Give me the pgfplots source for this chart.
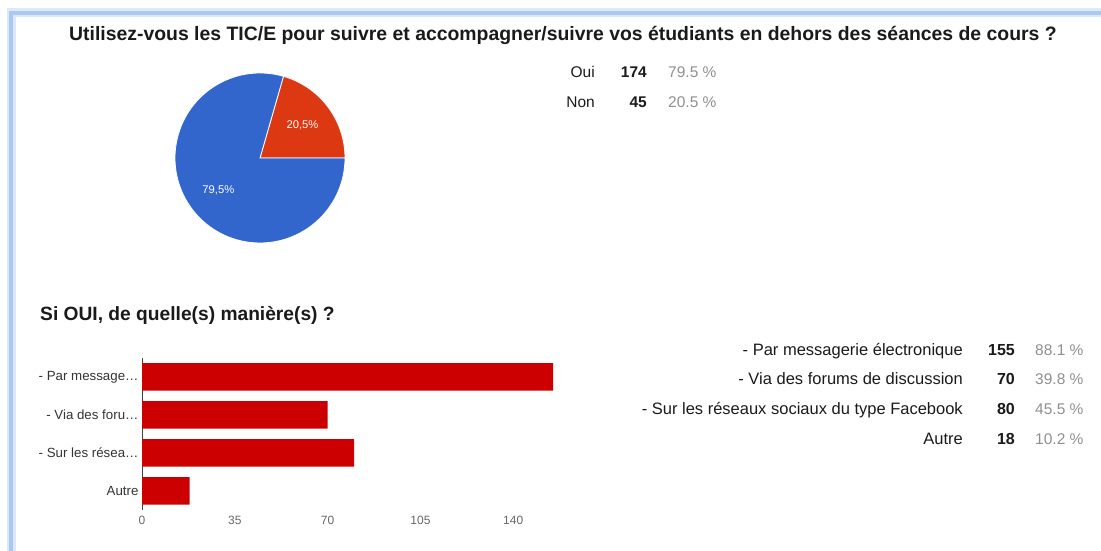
\documentclass[border=0pt]{standalone}
\usepackage{fontspec}
\setmainfont{Liberation Sans}
\usepackage{pgfplots}
\usepackage{pgfplotstable}
\pgfplotsset{compat=1.18}

\definecolor{gblue}{HTML}{3366CC}
\definecolor{gred}{HTML}{DC3912}
\definecolor{barred}{HTML}{CC0000}
\definecolor{frameblue}{HTML}{A9C9F2}
\definecolor{pctgray}{HTML}{8F8F8F}
\definecolor{txt}{HTML}{1A1A1A}

% reponses a la premiere question
\pgfplotstableread{
rep n
Oui 174
Non 45
}\piedata

% si oui : pos 3 = messagerie ... pos 0 = autre
\pgfplotstableread{
pos n
3 155
2 70
1 80
0 18
}\bardata

\begin{document}
\begin{tikzpicture}[x=1pt,y=1pt]
\useasboundingbox (0,0) rectangle (1101,551);

% cadre bleu de la capture
\draw[frameblue!40, line width=9pt] (11,-10) -- (11,538) -- (1120,538);
\draw[frameblue, line width=4pt] (11,-10) -- (11,538) -- (1120,538);

\node[font=\bfseries\fontsize{19.4}{22}\selectfont, text=txt] at (563,516)
  {Utilisez-vous les TIC/E pour suivre et accompagner/suivre vos étudiants en dehors des séances de cours ?};

% camembert
\pgfplotstablegetelem{0}{n}\of\piedata \let\nOui\pgfplotsretval
\pgfplotstablegetelem{1}{n}\of\piedata \let\nNon\pgfplotsretval
\pgfmathsetmacro\aNon{360*\nNon/(\nOui+\nNon)}
\begin{axis}[at={(175pt,308pt)}, anchor=south west, scale only axis,
  width=170pt, height=170pt, xmin=-1, xmax=1, ymin=-1, ymax=1, hide axis]
  \fill[gred, draw=white, line width=0.8pt] (axis cs:0,0) -- ++(0:85pt)
    arc[start angle=0, end angle=\aNon, radius=85pt] -- cycle;
  \fill[gblue, draw=white, line width=0.8pt] (axis cs:0,0) -- ++(\aNon:85pt)
    arc[start angle=\aNon, end angle=360, radius=85pt] -- cycle;
  \node[text=white, font=\fontsize{11.2}{13}\selectfont] at (axis cs:0.5,0.38) {20,5\%};
  \node[text=white, font=\fontsize{11.2}{13}\selectfont] at (axis cs:-0.49,-0.38) {79,5\%};
\end{axis}

\begin{scope}[font=\fontsize{15.5}{17}\selectfont, inner sep=0pt]
  \node[anchor=base east, text=txt] at (595,473) {Oui};
  \node[anchor=base east, text=txt, font=\bfseries\fontsize{15.5}{17}\selectfont] at (647,473) {174};
  \node[anchor=base west, text=pctgray] at (668,473) {79.5 \%};
  \node[anchor=base east, text=txt] at (595,443) {Non};
  \node[anchor=base east, text=txt, font=\bfseries\fontsize{15.5}{17}\selectfont] at (647,443) {45};
  \node[anchor=base west, text=pctgray] at (668,443) {20.5 \%};
\end{scope}

\node[anchor=west, font=\bfseries\fontsize{19.2}{22}\selectfont, text=txt, inner sep=0pt] at (40,236)
  {Si OUI, de quelle(s) manière(s) ?};

% barres horizontales
\begin{axis}[at={(142pt,41pt)}, anchor=south west, scale only axis,
  width=411pt, height=152pt,
  xbar, bar width=27.5pt,
  xmin=0, xmax=155, ymin=-0.5, ymax=3.5,
  axis x line*=bottom, axis y line*=left,
  x axis line style={draw=none},
  y axis line style={draw=black!75, -},
  major tick length=0pt,
  xtick={0,35,70,105,140},
  ytick={0,1,2,3},
  yticklabels={Autre,- Sur les résea…,- Via des foru…,- Par message…},
  xticklabel style={font=\fontsize{12}{14}\selectfont, text=black!60, yshift=-3pt},
  yticklabel style={font=\fontsize{13.3}{15}\selectfont, text=black!80},
  /pgf/number format/assume math mode=true]
  \addplot[fill=barred, draw=none] table[x=n, y=pos] {\bardata};
\end{axis}

\begin{scope}[font=\fontsize{16.5}{18}\selectfont, inner sep=0pt]
  \tikzset{num/.style={anchor=base east, text=txt, font=\bfseries\fontsize{16}{18}\selectfont},
           pct/.style={anchor=base west, text=pctgray, font=\fontsize{15.5}{17}\selectfont}}
  \node[anchor=base east, text=txt] at (963,195) {- Par messagerie électronique};
  \node[num] at (1015,195) {155};
  \node[pct] at (1035,195) {88.1 \%};
  \node[anchor=base east, text=txt] at (963,166) {- Via des forums de discussion};
  \node[num] at (1015,166) {70};
  \node[pct] at (1035,166) {39.8 \%};
  \node[anchor=base east, text=txt] at (963,136) {- Sur les réseaux sociaux du type Facebook};
  \node[num] at (1015,136) {80};
  \node[pct] at (1035,136) {45.5 \%};
  \node[anchor=base east, text=txt] at (963,106) {Autre};
  \node[num] at (1015,106) {18};
  \node[pct] at (1035,106) {10.2 \%};
\end{scope}
\end{tikzpicture}
\end{document}
